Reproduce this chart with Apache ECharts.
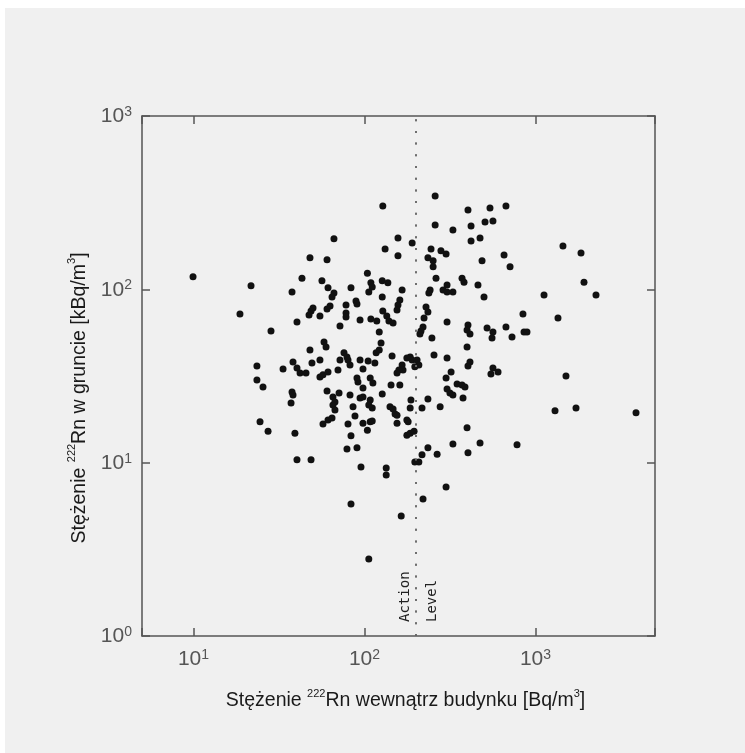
<!DOCTYPE html>
<html><head><meta charset="utf-8">
<script src="https://cdn.jsdelivr.net/npm/echarts@6/dist/echarts.min.js"></script>
<style>html,body{margin:0;padding:0;background:#fff}#c{width:745px;height:753px}</style>
</head><body><div id="c"></div><script>
// Indoor 222Rn concentration [Bq/m3]
const indoorRn = [128,66.3,157,190,132,157,48.0,60.4,9.94,43.1,
104,21.7,56.4,109,111,127,137,61.2,83.4,106,
166,37.7,66.3,64.6,127,161,89.2,90.4,78.0,50.0,
48.7,62.9,60.4,157,128,155,259,403,542,672,
259,420,507,564,329,474,420,245,280,300,
235,252,252,487,655,710,1448,1846,1922,2259,
1122,262,304,288,304,329,372,382,461,500,
242,238,229,235,223,220,214,211,304,248,
403,398,414,521,564,557,672,729,845,857,
892,1354,398,185,190,203,208,197,166,168,
255,304,414,403,564,549,604,321,300,348,
372,387,304,316,329,377,1508,161,187,235,
185,217,277,1301,1726,3872,177,180,177,185,
195,398,329,474,780,235,266,403,217,208,
40.3,48.7,95.4,134,134,197,300,220,83.4,164,
106,47.4,54.9,78.0,78.0,135,139,147,18.7,40.3,
94.2,109,118,71.9,28.4,122,125,58.0,59.6,48.0,
38.2,40.3,42.0,54.9,49.3,23.5,33.4,45.5,54.9,57.2,
61.2,71.9,70.0,75.9,79.0,80.1,82.3,94.2,105,117,
122,98.0,145,159,155,177,90.4,91.6,98.0,108,
112,143,23.5,25.5,60.4,65.4,71.0,67.2,82.3,94.2,
98.0,108,37.7,38.2,37.2,65.4,67.2,85.7,106,111,
127,141,147,151,155,88.0,24.5,27.3,39.2,57.2,
61.2,64.6,80.1,98.0,104,108,111,155,83.4,79.0,
90.4,115];
// Soil-gas 222Rn concentration [kBq/m3]
const soilRn = [303,196,198,185,171,156,152,148,118,116,
124,105,112,109,103,112,109,102,102,96.6,
99.2,96.6,95.3,90.4,90.4,86.9,85.7,82.4,81.3,78.1,
75.1,80.2,77.1,81.3,75.1,76.1,346,287,295,303,
235,232,245,248,220,198,190,171,167,160,
152,146,135,146,158,135,178,162,110,92.8,
92.8,116,106,99.2,96.6,96.6,116,110,106,90.4,
99.2,95.3,79.1,74.1,68.4,60.7,57.5,55.3,64.9,52.4,
62.3,58.3,55.3,59.9,56.8,52.4,60.7,53.1,72.1,56.8,
56.8,68.4,46.5,40.7,39.1,39.1,36.6,35.7,36.6,34.3,
41.8,40.2,38.1,36.1,35.2,32.5,33.4,33.4,30.8,28.4,
28.1,27.3,26.6,25.2,24.6,23.6,31.6,28.1,23.0,23.3,
20.7,20.7,21.0,19.9,20.7,19.4,17.6,17.2,14.4,14.8,
15.2,15.9,12.8,13.0,12.7,12.2,11.2,11.4,11.1,10.1,
10.4,10.4,9.45,9.32,8.49,10.1,7.24,6.17,5.78,4.92,
2.78,71.2,70.2,73.1,69.3,70.2,65.7,64.0,72.1,64.9,
66.6,67.5,65.7,61.5,57.5,56.8,49.1,49.7,46.5,44.7,
38.1,35.2,32.9,39.1,37.6,36.1,34.7,32.9,31.2,32.1,
33.4,39.1,34.3,43.0,40.7,39.1,36.6,39.1,38.6,43.0,
44.7,34.7,41.3,34.3,32.9,40.2,30.8,29.2,27.0,30.8,
28.8,28.1,30.0,27.3,25.9,23.9,25.2,22.4,24.6,23.6,
23.9,23.0,25.6,24.6,22.1,21.5,20.1,21.0,21.5,20.7,
24.9,21.0,20.4,19.1,18.8,18.6,17.2,15.2,14.8,16.7,
17.6,18.1,16.7,16.9,15.4,17.2,17.4,16.9,14.3,12.0,
12.2,37.6];
const actionLevel = 200;
const xRange = [5, 5000];
const yRange = [1, 1000];
const xTickExponents = [1, 2, 3];
const yTickExponents = [0, 1, 2, 3];
const actionLabels = ['Action', 'Level'];

const points = indoorRn.map((v, i) => [v, soilRn[i]]);

const AX = '#555';
const labelRich = {
  n: {fontSize: 21, color: '#555', fontFamily: 'Liberation Sans', lineHeight: 22, verticalAlign: 'bottom'},
  s: {fontSize: 14, color: '#555', fontFamily: 'Liberation Sans', verticalAlign: 'top', lineHeight: 13}
};
function powLabel(exps) {
  return function (v) {
    const l = Math.log10(v), e = Math.round(l);
    if (Math.abs(l - e) > 1e-6 || exps.indexOf(e) < 0) return '';
    return '{n|10}{s|' + e + '}';
  };
}
const titleRich = {
  t: {fontSize: 19.5, color: '#1a1a1a', fontFamily: 'Liberation Sans', lineHeight: 23, verticalAlign: 'bottom'},
  u: {fontSize: 11, color: '#1a1a1a', fontFamily: 'Liberation Sans', lineHeight: 11, verticalAlign: 'top'}
};
const lineStyle = {color: AX, width: 1.5};

const chart = echarts.init(document.getElementById('c'), null, {renderer: 'canvas'});
chart.setOption({
  backgroundColor: '#f0f0f0',
  animation: false,
  graphic: [
    {type: 'rect', z: -10, silent: true, shape: {x: 0, y: 0, width: 745, height: 8}, style: {fill: '#fff'}},
    {type: 'rect', z: -10, silent: true, shape: {x: 0, y: 0, width: 5, height: 753}, style: {fill: '#fff'}}
  ],
  grid: {left: 142, right: 90, top: 116, bottom: 117},
  xAxis: [
    {
      type: 'log', min: xRange[0], max: xRange[1], position: 'bottom',
      axisLine: {lineStyle: lineStyle}, splitLine: {show: false},
      axisTick: {inside: true, length: 8, lineStyle: lineStyle},
      axisLabel: {formatter: powLabel(xTickExponents), rich: labelRich, margin: 12},
      name: '{t|Stężenie }{u|222}{t|Rn wewnątrz budynku [Bq/m}{u|3}{t|]}',
      nameLocation: 'middle', nameGap: 52,
      nameTextStyle: {rich: titleRich, padding: [0, 0, 0, 14]}
    },
    {
      type: 'log', min: xRange[0], max: xRange[1], position: 'top',
      axisLine: {lineStyle: lineStyle}, splitLine: {show: false},
      axisTick: {inside: true, length: 8, lineStyle: lineStyle},
      axisLabel: {show: false}
    }
  ],
  yAxis: [
    {
      type: 'log', min: yRange[0], max: yRange[1], position: 'left',
      axisLine: {lineStyle: lineStyle}, splitLine: {show: false},
      axisTick: {inside: true, length: 8, lineStyle: lineStyle},
      axisLabel: {formatter: powLabel(yTickExponents), rich: labelRich, margin: 10},
      name: '{t|Stężenie }{u|222}{t|Rn w gruncie [kBq/m}{u|3}{t|]}',
      nameLocation: 'middle', nameGap: 50,
      nameTextStyle: {rich: titleRich, padding: [0, 44, 0, 0]}
    },
    {
      type: 'log', min: yRange[0], max: yRange[1], position: 'right',
      axisLine: {lineStyle: lineStyle}, splitLine: {show: false},
      axisTick: {inside: true, length: 8, lineStyle: lineStyle},
      axisLabel: {show: false}
    }
  ],
  series: [{
    type: 'scatter', xAxisIndex: 0, yAxisIndex: 0,
    data: points, symbolSize: 7,
    itemStyle: {color: '#111', opacity: 1},
    markLine: {
      silent: true, symbol: 'none', animation: false,
      lineStyle: {color: '#666', type: [2, 9.7], width: 1.5},
      label: {fontFamily: 'DejaVu Sans Mono', fontSize: 14, color: '#222'},
      data: [
        {xAxis: actionLevel, label: {formatter: actionLabels[0], position: 'insideStartTop', distance: [14, 4]}},
        {xAxis: actionLevel, label: {formatter: actionLabels[1], position: 'insideStartBottom', distance: [14, 9]}}
      ]
    }
  }]
});
</script></body></html>
